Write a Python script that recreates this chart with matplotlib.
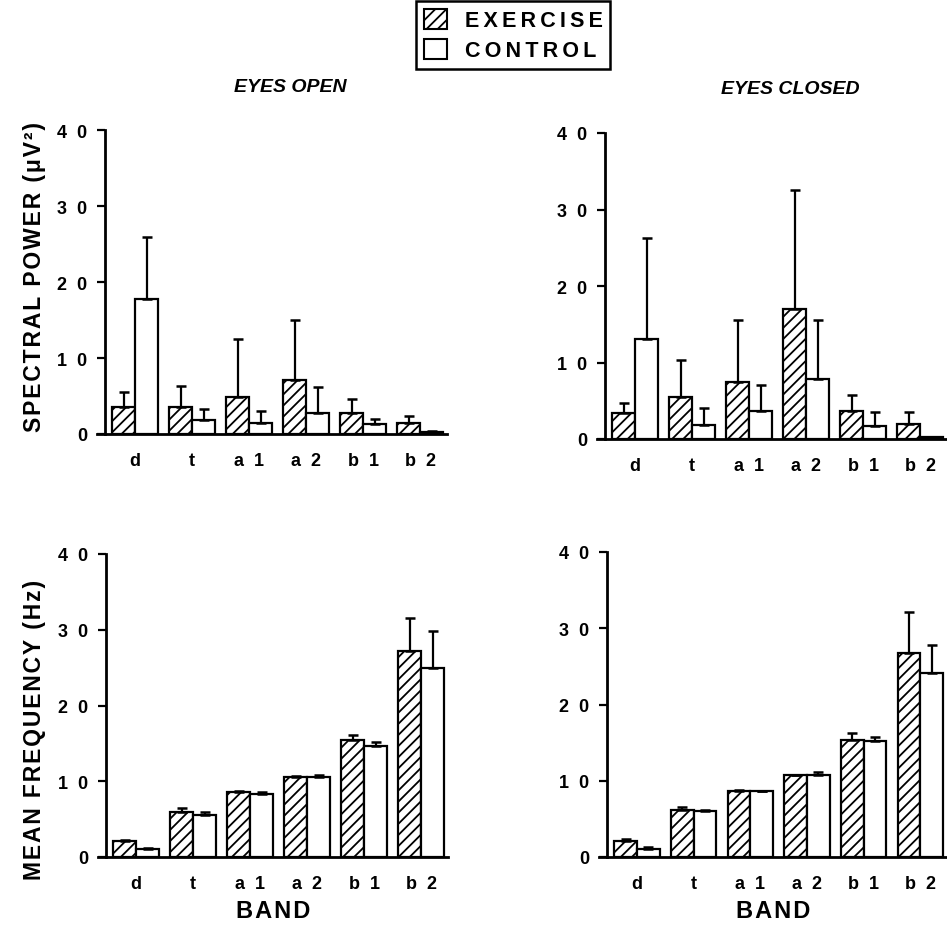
import matplotlib
matplotlib.use("Agg")
import matplotlib.pyplot as plt
from matplotlib.patches import Patch
import numpy as np

plt.rcParams['font.family'] = ['Liberation Sans', 'DejaVu Sans']
plt.rcParams['font.weight'] = 'bold'
plt.rcParams['hatch.linewidth'] = 1.3

bands = ["d", "t", "a 1", "a 2", "b 1", "b 2"]
groups = ["EXERCISE", "CONTROL"]
ytick_values = [0, 10, 20, 30, 40]
ytick_labels = ["0", "1  0", "2  0", "3  0", "4  0"]

# Spectral power (uV^2), eyes open
power_open_ex = [3.5, 3.5, 4.9, 7.1, 2.8, 1.5]
power_open_ex_sd = [2.0, 2.8, 7.6, 7.9, 1.8, 0.9]
power_open_ct = [17.8, 1.9, 1.5, 2.8, 1.3, 0.3]
power_open_ct_sd = [8.1, 1.4, 1.5, 3.4, 0.7, 0.1]

# Spectral power (uV^2), eyes closed
power_closed_ex = [3.4, 5.5, 7.5, 17.0, 3.7, 1.9]
power_closed_ex_sd = [1.3, 4.8, 8.1, 15.6, 2.1, 1.6]
power_closed_ct = [13.1, 1.8, 3.7, 7.8, 1.7, 0.3]
power_closed_ct_sd = [13.2, 2.2, 3.3, 7.8, 1.8, 0.0]

# Mean frequency (Hz), eyes open
freq_open_ex = [2.1, 5.9, 8.6, 10.6, 15.5, 27.2]
freq_open_ex_sd = [0.2, 0.6, 0.1, 0.1, 0.6, 4.3]
freq_open_ct = [1.1, 5.6, 8.3, 10.6, 14.6, 25.0]
freq_open_ct_sd = [0.1, 0.3, 0.3, 0.2, 0.6, 4.8]

# Mean frequency (Hz), eyes closed
freq_closed_ex = [2.1, 6.2, 8.7, 10.7, 15.3, 26.7]
freq_closed_ex_sd = [0.3, 0.4, 0.1, 0.1, 0.9, 5.4]
freq_closed_ct = [1.1, 6.0, 8.6, 10.7, 15.2, 24.1]
freq_closed_ct_sd = [0.2, 0.2, 0.1, 0.5, 0.6, 3.7]

W, H = 947, 928
fig = plt.figure(figsize=(W / 100, H / 100), dpi=100)


def spaced(s, gap="\u200a"):
    """Letter-space a label with narrow spaces between characters."""
    return gap.join(s)


def px_axes(left, right, y0, y40):
    return fig.add_axes([left / W, 1 - y0 / H, (right - left) / W, (y0 - y40) / H])


def draw_panel(ax, ex, ex_sd, ct, ct_sd, show_xlabel):
    x = np.arange(len(bands))
    w = 0.4
    err_kw = dict(ecolor='black', elinewidth=1.6, capsize=3.6, capthick=1.8)
    ax.bar(x - w / 2, ex, w, color='white', edgecolor='black', linewidth=1.6,
           hatch='///', yerr=[np.zeros(len(ex)), ex_sd], error_kw=err_kw, zorder=3)
    ax.bar(x + w / 2, ct, w, color='white', edgecolor='black', linewidth=1.6,
           yerr=[np.zeros(len(ct)), ct_sd], error_kw=err_kw, zorder=3)
    ax.set_xlim(-0.67, 5.47)
    ax.set_ylim(0, 40)
    ax.spines['top'].set_visible(False)
    ax.spines['right'].set_visible(False)
    ax.spines['left'].set_position(('data', -0.53))
    ax.spines['left'].set_linewidth(2.0)
    ax.spines['bottom'].set_linewidth(2.0)
    ax.spines['left'].set_zorder(5)
    ax.spines['bottom'].set_zorder(5)
    ax.set_yticks(ytick_values)
    ax.set_yticklabels(ytick_labels, fontsize=13, fontweight='bold')
    ax.tick_params(axis='y', direction='out', length=6, width=1.6, pad=7)
    ax.set_xticks(x)
    ax.set_xticklabels([b.replace(" ", "  ") for b in bands], fontsize=13,
                       fontweight='bold')
    ax.tick_params(axis='x', length=0, pad=13)
    ax.patch.set_alpha(0)
    if show_xlabel:
        ax.set_xlabel(spaced("BAND"), fontsize=17, fontweight='bold', labelpad=5)


ax_po = px_axes(97, 447, 435, 131)
ax_pc = px_axes(597, 947, 440, 134)
ax_fo = px_axes(98, 448, 858, 555)
ax_fc = px_axes(599, 947, 858, 553)

draw_panel(ax_po, power_open_ex, power_open_ex_sd, power_open_ct, power_open_ct_sd, False)
draw_panel(ax_pc, power_closed_ex, power_closed_ex_sd, power_closed_ct, power_closed_ct_sd, False)
draw_panel(ax_fo, freq_open_ex, freq_open_ex_sd, freq_open_ct, freq_open_ct_sd, True)
draw_panel(ax_fc, freq_closed_ex, freq_closed_ex_sd, freq_closed_ct, freq_closed_ct_sd, True)

fig.text(35 / W, 1 - 277 / H, spaced("SPECTRAL POWER (\u03bcV\u00b2)"), rotation=90,
         ha='center', va='center', fontsize=16.5, fontweight='bold')
fig.text(35 / W, 1 - 730 / H, spaced("MEAN FREQUENCY (Hz)"), rotation=90,
         ha='center', va='center', fontsize=16.5, fontweight='bold')

fig.text(290 / W, 1 - 88 / H, "EYES OPEN", ha='center', va='center',
         fontsize=14, fontweight='bold', style='italic')
fig.text(790 / W, 1 - 90 / H, "EYES CLOSED", ha='center', va='center',
         fontsize=14, fontweight='bold', style='italic')

handles = [Patch(facecolor='white', edgecolor='black', hatch='///', linewidth=1.5),
           Patch(facecolor='white', edgecolor='black', linewidth=1.5)]
leg = fig.legend(handles, [spaced(g, "\u2009") for g in groups], loc='upper center',
                 bbox_to_anchor=(513 / W, 1 - 2 / H), borderaxespad=0,
                 fancybox=False, edgecolor='black', framealpha=1,
                 prop={'weight': 'bold', 'size': 15.5}, handlelength=1.1, handleheight=1.1,
                 borderpad=0.35, labelspacing=0.35, handletextpad=0.8)
leg.get_frame().set_linewidth(1.8)

fig.savefig("out.png", dpi=100, facecolor='white')
